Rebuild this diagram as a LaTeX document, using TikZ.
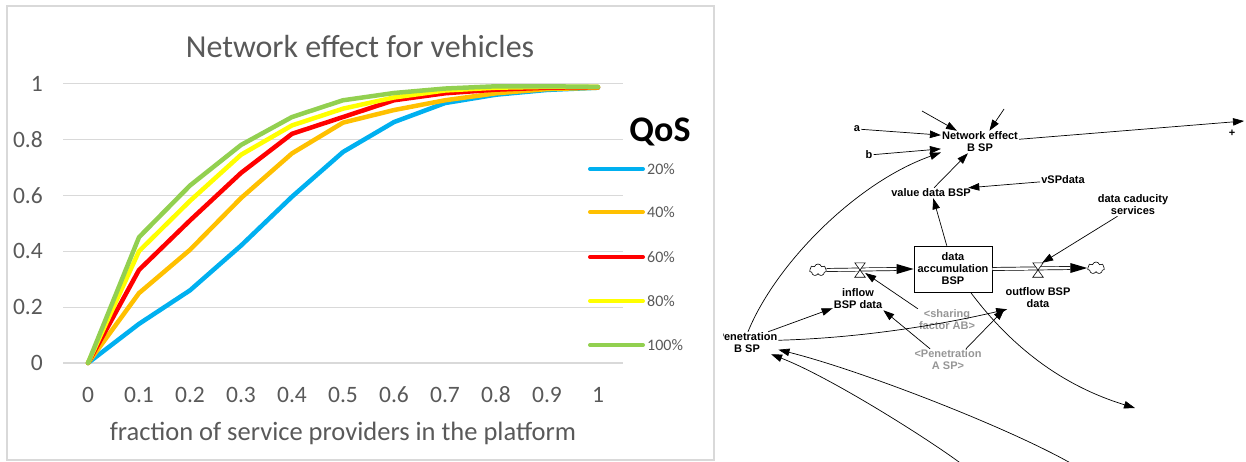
\documentclass[tikz,border=0pt]{standalone}
\usepackage{fontspec}
\setmainfont{Carlito}
\newfontfamily\vfont{Liberation Sans}
\usetikzlibrary{arrows.meta,shapes.symbols}
\definecolor{cblue}{HTML}{00B0F0}
\definecolor{corange}{HTML}{FFC000}
\definecolor{cred}{HTML}{FF0000}
\definecolor{cyellow}{HTML}{FFFF00}
\definecolor{cgreen}{HTML}{92D050}
\definecolor{gridc}{HTML}{D9D9D9}
\definecolor{txtc}{HTML}{595959}
\definecolor{shadowc}{HTML}{969696}
\begin{document}
\begin{tikzpicture}[x=1pt,y=-1pt,
  curve/.style={line width=4.5pt, line join=round, line cap=round},
  legline/.style={line width=4pt, line cap=round},
  gridline/.style={gridc, line width=1.2pt},
  ticklbl/.style={text=txtc, font=\fontsize{23.5}{26}\selectfont, inner sep=0pt},
  leglbl/.style={text=txtc, font=\fontsize{16}{18}\selectfont, anchor=west, inner sep=0pt},
  var/.style={font=\vfont\bfseries\fontsize{11}{12}\selectfont, align=center, inner sep=1pt},
  shadowvar/.style={var, text=shadowc},
  link/.style={line width=0.7pt, -{Triangle[length=11pt,width=7.5pt]}},
  pipe/.style={double distance=2.4pt, line width=0.7pt},
  valve/.style={minimum width=10pt, minimum height=14pt, inner sep=0pt},
  cloudn/.style={cloud, cloud puffs=7, draw, minimum width=17pt, minimum height=12pt, inner sep=0pt, line width=0.6pt}
]
\useasboundingbox (0,0) rectangle (1246,461);
% ---------------- chart ----------------
\draw[gridc, line width=1.2pt] (7,6) rectangle (714,460);
\node[text=txtc, font=\fontsize{32}{36}\selectfont] (title) at (360,47) {Network effect for vehicles};
\foreach \v in {0,0.2,0.4,0.6,0.8,1}{
  \draw[gridline] (63,{363-279.5*\v}) -- (623,{363-279.5*\v});
  \node[ticklbl, anchor=east] at (43,{363-279.5*\v}) {\v};
}
\foreach \u in {0,0.1,0.2,0.3,0.4,0.5,0.6,0.7,0.8,0.9,1}{
  \node[ticklbl] at ({88+510*\u},395) {\u};
}
\node[text=txtc, font=\fontsize{26.5}{30}\selectfont] (xlabel) at (343,433) {fraction of service providers in the platform};
\coordinate (O) at (88,363);
\begin{scope}[shift={(O)}, x=510pt, y=279.5pt]
\draw[curve, cblue] plot coordinates {(0,0) (0.1,0.14) (0.2,0.26) (0.3,0.42) (0.4,0.595) (0.5,0.755) (0.6,0.862) (0.7,0.93) (0.8,0.96) (0.9,0.977) (1,0.985)};
\draw[curve, corange] plot coordinates {(0,0) (0.1,0.25) (0.2,0.405) (0.3,0.59) (0.4,0.75) (0.5,0.86) (0.6,0.905) (0.7,0.94) (0.8,0.965) (0.9,0.98) (1,0.985)};
\draw[curve, cred] plot coordinates {(0,0) (0.1,0.333) (0.2,0.51) (0.3,0.68) (0.4,0.82) (0.5,0.88) (0.6,0.94) (0.7,0.965) (0.8,0.978) (0.9,0.985) (1,0.987)};
\draw[curve, cyellow] plot coordinates {(0,0) (0.1,0.40) (0.2,0.58) (0.3,0.745) (0.4,0.85) (0.5,0.91) (0.6,0.95) (0.7,0.975) (0.8,0.985) (0.9,0.988) (1,0.988)};
\draw[curve, cgreen] plot coordinates {(0,0) (0.1,0.45) (0.2,0.635) (0.3,0.78) (0.4,0.88) (0.5,0.94) (0.6,0.966) (0.7,0.982) (0.8,0.99) (0.9,0.99) (1,0.988)};
\end{scope}
\node[font=\bfseries\fontsize{36}{40}\selectfont] (qos) at (660,132) {QoS};
\draw[legline, cblue] (590,169) -- (643,169); \node[leglbl] at (647,169) {20\%};
\draw[legline, corange] (590,212) -- (643,212); \node[leglbl] at (647,212) {40\%};
\draw[legline, cred] (590,257) -- (643,257); \node[leglbl] at (647,257) {60\%};
\draw[legline, cyellow] (590,301) -- (643,301); \node[leglbl] at (647,301) {80\%};
\draw[legline, cgreen] (590,345) -- (643,345); \node[leglbl] at (647,345) {100\%};
% ---------------- stock & flow diagram ----------------
\begin{scope}
\clip (723,0) rectangle (1246,461);
\node[var] (net) at (980,142) {Network effect\\B SP};
\node[var] (a) at (857,129) {a};
\node[var] (b) at (869,155) {b};
\node[var] (val) at (931,193) {value data BSP};
\node[var] (vsp) at (1063,180) {vSPdata};
\node[var] (cad) at (1133,205) {data caducity\\services};
\node[var, draw, line width=0.7pt, minimum width=78pt, minimum height=46pt] (box) at (953,269) {data\\accumulation\\BSP};
\node[cloudn] (c1) at (818,270) {};
\node[cloudn] (c2) at (1096,268) {};
\node[valve] (vin) at (860,270) {};
\node[valve] (vout) at (1038,270) {};
\node[var] (inl) at (858,299) {inflow\\BSP data};
\node[var] (outl) at (1038,298) {outflow BSP\\data};
\node[shadowvar] (shr) at (947,320) {<sharing\\factor AB>};
\node[shadowvar] (pena) at (948,360) {<Penetration\\A SP>};
\node[var] (penb) at (747,343) {Penetration\\B SP};
\node[var] (plus) at (1232,133) {+};
% pipes
\draw[pipe] (c1.east) -- ([xshift=-17pt]box.west);
\fill (box.west) -- ++(-17,-5) -- ++(0,10) -- cycle;
\draw[pipe] (box.east) -- ([xshift=-17pt]c2.west);
\fill (c2.west) -- ++(-17,-5) -- ++(0,10) -- cycle;
\draw[fill=white, line width=0.6pt] (vin.north west) -- (vin.north east) -- (vin.south west) -- (vin.south east) -- cycle;
\draw[fill=white, line width=0.6pt] (vout.north west) -- (vout.north east) -- (vout.south west) -- (vout.south east) -- cycle;
% free ends
\coordinate (t1) at (922,111);
\coordinate (t2) at (1004,109);
\coordinate (t3) at (1244,121);
\coordinate (t4) at (1135,408);
\coordinate (t5) at (1074,465);
\coordinate (t6) at (963,465);
% links
\draw[link] (a) -- (net.170);
\draw[link] (b) -- (net.190);
\draw[link] (t1) -- (net.154);
\draw[link] (t2) -- (net.50);
\draw[link] (net.4) -- (t3);
\draw[link] (val.60) -- (net.223);
\draw[link] (vsp) -- (val.8);
\draw[link] (box.105) -- (val.-67);
\draw[link] (cad.216) -- (vout.60);
\draw[link] (shr.north west) -- (vin.-30);
\draw[link] (penb.28) -- (inl.200);
\draw[link] (pena.148) -- (inl.south east);
\draw[link] (pena.32) -- (outl.south west);
\draw[link] (penb.5) .. controls (860,338) and (940,325) .. (outl.200);
\draw[link] (penb.85) .. controls (775,265) and (855,183) .. (net.195);
\draw[link] (box.-53.5) .. controls (1010,345) and (1060,385) .. (t4);
\draw[link] (t5) .. controls (1010,428) and (860,370) .. (penb.-12);
\draw[link] (t6) .. controls (930,440) and (830,377) .. (penb.-25);
\end{scope}
\end{tikzpicture}
\end{document}
